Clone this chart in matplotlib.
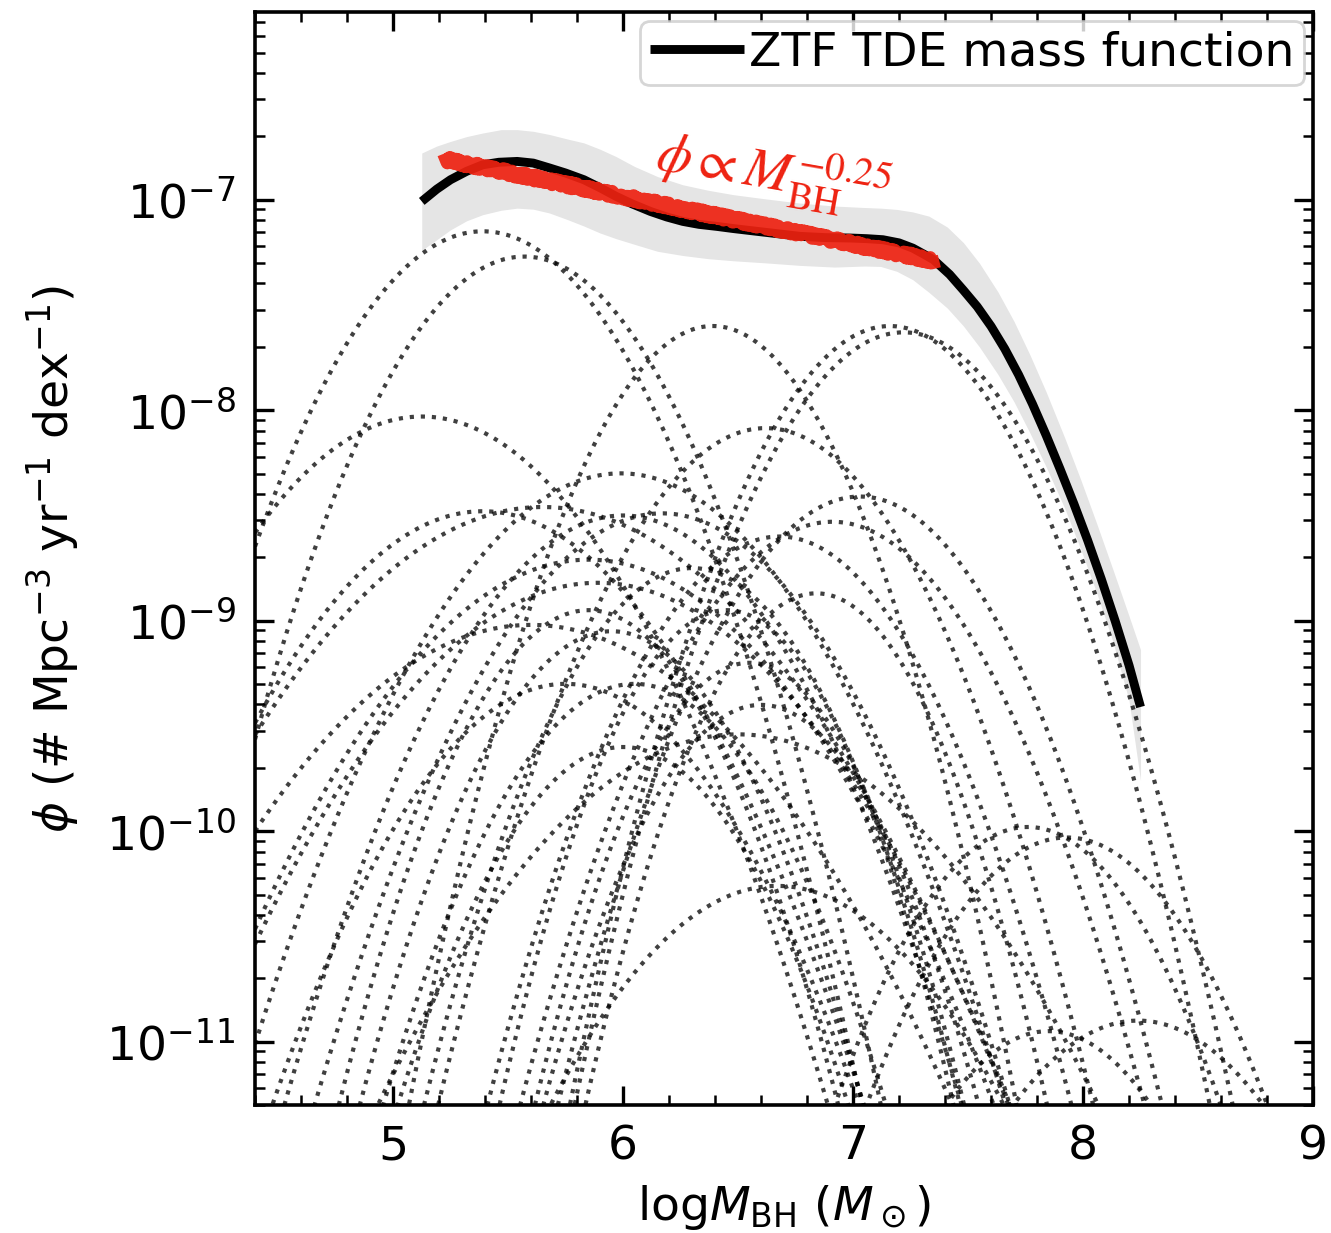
import numpy as np
import matplotlib.pyplot as plt
from matplotlib.ticker import MultipleLocator, NullFormatter

# per-TDE contributions: gaussians in log M_BH  (centre, log10 of peak, width)
tde_logm = [5.39, 5.57, 5.125, 6.39, 7.16, 7.22, 5.99, 6.00, 5.39, 5.65,
            6.17, 5.85, 5.89, 5.60, 6.62, 7.03, 6.91, 6.68, 6.84, 6.50,
            6.67, 7.76, 7.93, 8.24, 7.85, 5.85, 5.95, 6.05, 6.30, 6.45,
            6.55, 6.00, 6.60, 5.75]
tde_logpeak = [-7.15, -7.27, -8.03, -7.60, -7.60, -7.63, -8.30, -8.50, -8.48, -8.46,
               -8.49, -8.71, -8.82, -9.02, -8.085, -8.41, -8.53, -8.60, -8.87, -9.54,
               -10.26, -9.98, -10.03, -10.90, -10.95, -8.95, -9.05, -9.30, -8.75, -8.95,
               -9.20, -9.60, -9.40, -9.30]
tde_sigma = [0.377, 0.36, 0.455, 0.32, 0.337, 0.348, 0.45, 0.41, 0.46, 0.56,
             0.42, 0.51, 0.53, 0.565, 0.37, 0.36, 0.38, 0.36, 0.30, 0.55,
             0.45, 0.34, 0.36, 0.40, 0.35, 0.33, 0.34, 0.36, 0.34, 0.30,
             0.30, 0.35, 0.32, 0.42]

# ZTF TDE mass function (log10 phi)
mf_logm = [5.125, 5.19, 5.25, 5.32, 5.39, 5.46, 5.54, 5.61, 5.68, 5.75,
           5.83, 5.90, 5.97, 6.04, 6.12, 6.19, 6.26, 6.33, 6.41, 6.48,
           6.55, 6.66, 6.77, 6.88, 6.99, 7.06, 7.13, 7.20, 7.26, 7.31,
           7.35, 7.42, 7.48, 7.54, 7.60, 7.66, 7.72, 7.78, 7.84, 7.90,
           7.96, 8.02, 8.08, 8.14, 8.20, 8.25]
mf_logphi = [-7.008, -6.95, -6.905, -6.865, -6.834, -6.822, -6.818, -6.826, -6.849, -6.873,
             -6.905, -6.943, -6.984, -7.02, -7.056, -7.082, -7.103, -7.117, -7.127, -7.137,
             -7.146, -7.16, -7.174, -7.18, -7.182, -7.185, -7.19, -7.205, -7.23, -7.26,
             -7.285, -7.355, -7.43, -7.508, -7.601, -7.709, -7.832, -7.970, -8.120, -8.279,
             -8.444, -8.618, -8.804, -9.002, -9.212, -9.41]

# uncertainty band
band_logm = [5.125, 5.19, 5.25, 5.32, 5.39, 5.47, 5.54, 5.61, 5.68, 5.76,
             5.83, 5.90, 5.97, 6.05, 6.15, 6.26, 6.37, 6.48, 6.62, 6.77,
             6.92, 7.05, 7.12, 7.19, 7.26, 7.33, 7.41, 7.48, 7.55, 7.63,
             7.70, 7.77, 7.84, 7.92, 7.99, 8.06, 8.13, 8.20, 8.25]
band_hi = [-6.778, -6.745, -6.723, -6.70, -6.683, -6.667, -6.667, -6.675, -6.69, -6.712,
           -6.73, -6.76, -6.795, -6.842, -6.89, -6.929, -6.955, -6.976, -6.996, -7.016,
           -7.03, -7.037, -7.04, -7.046, -7.058, -7.078, -7.13, -7.204, -7.302, -7.438,
           -7.578, -7.739, -7.914, -8.13, -8.33, -8.54, -8.757, -8.978, -9.138]
band_lo = [-7.24, -7.19, -7.143, -7.10, -7.071, -7.05, -7.04, -7.045, -7.063, -7.095,
           -7.125, -7.158, -7.185, -7.212, -7.245, -7.265, -7.28, -7.29, -7.30, -7.312,
           -7.32, -7.315, -7.317, -7.34, -7.38, -7.44, -7.515, -7.60, -7.70, -7.83,
           -7.96, -8.11, -8.27, -8.465, -8.66, -8.87, -9.10, -9.38, -9.76]

# phi ~ M^-0.25 guide
pl_logm = [5.23, 7.35]
pl_logphi = [-6.81, -7.29]

red = '#ee2211'

fig = plt.figure(figsize=(6.655, 6.165), dpi=200)
ax = fig.add_axes([0.1916, 0.1038, 0.7949, 0.8865])

ax.fill_between(band_logm, 10**np.array(band_lo), 10**np.array(band_hi),
                color='#e5e5e5', lw=0, zorder=1)

x = np.linspace(4.4, 9.0, 400)
for mu, lp, sig in zip(tde_logm, tde_logpeak, tde_sigma):
    ax.plot(x, 10**lp * np.exp(-(x - mu)**2 / (2 * sig**2)),
            ls=':', color='k', lw=1.5, alpha=0.75, zorder=2)

ax.plot(mf_logm, 10**np.array(mf_logphi), color='k', lw=3.2, zorder=3,
        solid_capstyle='butt', solid_joinstyle='round', label='ZTF TDE mass function')

pl, = ax.plot(pl_logm, 10**np.array(pl_logphi), color=red, lw=4.6, alpha=0.92, zorder=4)
pl.set_sketch_params(scale=3, length=2, randomness=6)

ax.text(6.65, 10**-6.875, r'$\phi \propto M_{\rm BH}^{-0.25}$', color=red,
        fontsize=20, rotation=-10, ha='center', va='center', math_fontfamily='stix')

ax.set_yscale('log')
ax.set_xlim(4.4, 9.0)
ax.set_ylim(5.0e-12, 7.8e-7)
ax.set_xticks([5, 6, 7, 8, 9])
ax.xaxis.set_minor_locator(MultipleLocator(0.2))
ax.yaxis.set_minor_formatter(NullFormatter())

ax.tick_params(which='both', direction='in', top=True, right=True, labelsize=17, pad=7)
ax.tick_params(which='major', length=7, width=1.2)
ax.tick_params(which='minor', length=3.6, width=0.9)
for s in ax.spines.values():
    s.set_linewidth(1.3)

ax.set_xlabel(r'log$M_{\rm BH}$ ($M_\odot$)', fontsize=17, labelpad=5)
ax.set_ylabel(r'$\phi$ (# Mpc$^{-3}$ yr$^{-1}$ dex$^{-1}$)', fontsize=17, labelpad=9)

ax.legend(loc='upper right', fontsize=17, borderaxespad=0.2, borderpad=0.2,
          handletextpad=0.1, handlelength=2.0, edgecolor='0.8')

fig.savefig('out.png', dpi=200)
